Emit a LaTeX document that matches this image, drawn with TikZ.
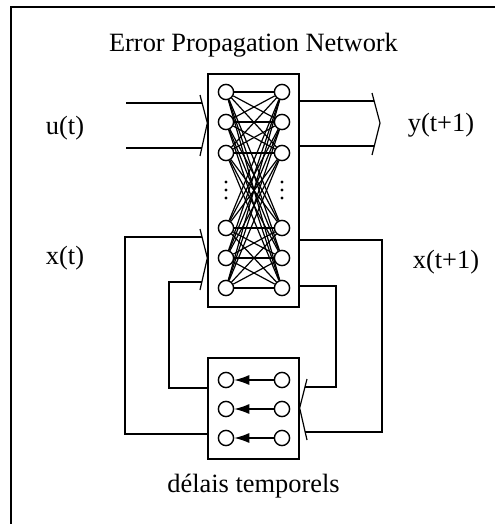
\documentclass[tikz,border=0pt]{standalone}
\usepackage{fontspec}
\setmainfont{Liberation Serif}
\usetikzlibrary{arrows.meta,positioning}

\tikzset{
  neuron/.style={draw, circle, minimum size=7.6pt, inner sep=0pt, line width=0.7pt},
  layer/.style={draw, rectangle, minimum width=45.5pt, inner sep=0pt, line width=0.65pt},
  lbl/.style={font=\fontsize{13.2}{15}\selectfont, inner sep=0pt},
  wire/.style={line width=0.65pt},
}

\begin{document}
\begin{tikzpicture}[x=0.5pt, y=-0.5pt, line width=0.6pt]
  \useasboundingbox (0,0) rectangle (494,524);
  % outer frame, cut by the page on the right and at the bottom
  \draw[line width=1.1pt] (11,540) -- (11,7) -- (510,7);

  % network and delay boxes
  \node[layer, minimum height=116.5pt] (net) at (253.5,190.5) {};
  \node[layer, minimum height=50.5pt] (delay) at (253.5,408.5) {};

  \node[lbl, above=8pt of net] (title) {Error Propagation Network};
  \node[lbl, below=7pt of delay] (dlabel) {délais temporels};

  % neurons of the network
  \foreach \i/\y in {1/92, 2/122, 3/153, 4/228, 5/258, 6/288} {
    \node[neuron] (l\i) at (226,\y) {};
    \node[neuron] (r\i) at (282,\y) {};
  }
  \foreach \i in {1,...,6}
    \foreach \j in {1,...,6}
      \draw (l\i) -- (r\j);
  \foreach \x in {226,282}
    \foreach \y in {182,190,198}
      \fill (\x,\y) circle (0.8pt);

  % delay units
  \foreach \i/\y in {1/380, 2/409, 3/438} {
    \node[neuron] (dl\i) at (226,\y) {};
    \node[neuron] (dr\i) at (282,\y) {};
    \draw[-{Latex[length=7.5pt,width=5pt]}] (dr\i) -- (dl\i);
  }

  % labels
  \node[lbl] (ulabel) at (65,128) {u(t)};
  \node[lbl] (ylabel) at (441,125) {y(t+1)};
  \node[lbl] (xlabel) at (65,258) {x(t)};
  \node[lbl] (xnlabel) at (446,262) {x(t+1)};

  % input u(t)
  \coordinate (u1) at (126,103);
  \coordinate (u2) at (126,148);
  \coordinate (ua) at (200,95);
  \coordinate (uc) at (200,156);
  \draw (ua) -- (net.west |- 0,123) -- (uc);
  \draw[wire] (u1) -- (202,103);
  \draw[wire] (u2) -- (202,148);

  % output y(t+1)
  \coordinate (ya) at (372,93);
  \coordinate (yc) at (372,155);
  \draw (ya) -- (380,123) -- (yc);
  \draw[wire] (net.east |- 0,101) -- (374,101);
  \draw[wire] (net.east |- 0,146) -- (374,146);

  % state x(t) coming back from the delays
  \coordinate (xa) at (200,229);
  \coordinate (xc) at (200,290);
  \draw (xa) -- (net.west |- 0,258) -- (xc);
  \draw[wire] (202,237) -- (125,237) -- (125,434) -- (delay.west |- 0,434);
  \draw[wire] (202,282) -- (169,282) -- (169,388) -- (delay.west |- 0,388);

  % state x(t+1) going to the delays
  \coordinate (da) at (307,379);
  \coordinate (dc) at (307,440);
  \draw (da) -- (delay.east |- 0,408) -- (dc);
  \draw[wire] (net.east |- 0,240) -- (382,240) -- (382,432) -- (305,432);
  \draw[wire] (net.east |- 0,286) -- (336,286) -- (336,387) -- (305,387);
\end{tikzpicture}
\end{document}
